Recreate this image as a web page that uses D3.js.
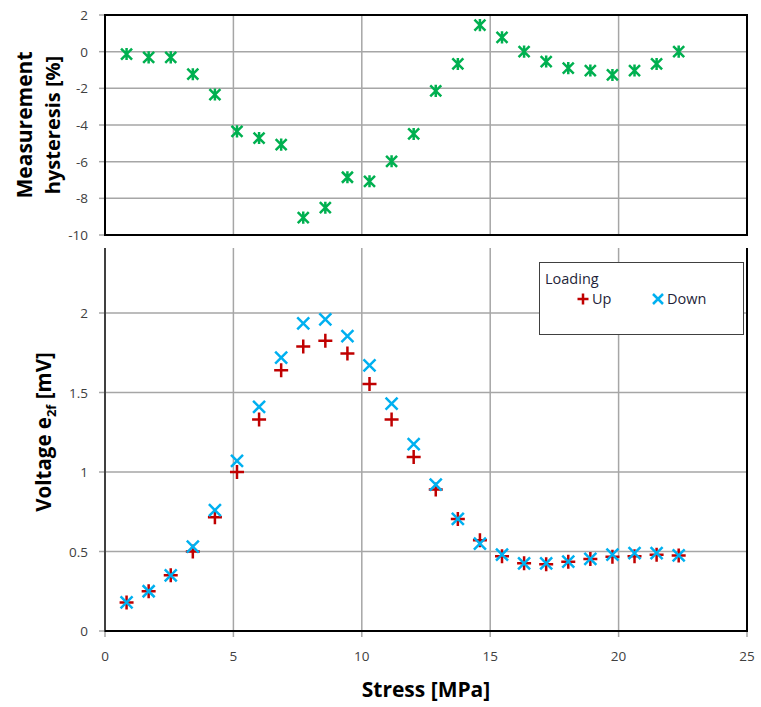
<!DOCTYPE html>
<html>
<head>
<meta charset="utf-8">
<script src="https://cdn.jsdelivr.net/npm/d3@7"></script>
<style>
  body { margin: 0; background: #fff; }
  svg text { font-family: "Open Sans", "Noto Sans", sans-serif; }
</style>
</head>
<body>
<div id="chart"></div>
<script>
// stress steps (MPa), shared by both panels
const stress = [0.84, 1.70, 2.56, 3.42, 4.28, 5.14, 6.00, 6.86, 7.72, 8.58, 9.44, 10.30, 11.16,
  12.02, 12.88, 13.74, 14.60, 15.46, 16.32, 17.18, 18.04, 18.90, 19.76, 20.62, 21.48, 22.34];
// top panel: measurement hysteresis [%]
const hysteresis = [-0.13, -0.31, -0.31, -1.23, -2.34, -4.35, -4.71, -5.07, -9.05, -8.51, -6.85, -7.07, -5.98,
  -4.49, -2.14, -0.67, 1.45, 0.78, 0.0, -0.54, -0.9, -1.03, -1.27, -1.03, -0.67, 0.0];
// bottom panel: voltage e2f [mV]
const voltUp = [0.18, 0.25, 0.35, 0.50, 0.715, 1.0, 1.33, 1.64, 1.79, 1.826, 1.746, 1.553, 1.33,
  1.095, 0.89, 0.705, 0.57, 0.47, 0.426, 0.42, 0.436, 0.453, 0.467, 0.47, 0.48, 0.475];
const voltDown = [0.18, 0.25, 0.35, 0.53, 0.76, 1.07, 1.41, 1.72, 1.935, 1.96, 1.855, 1.67, 1.43,
  1.175, 0.92, 0.705, 0.55, 0.48, 0.426, 0.426, 0.436, 0.453, 0.48, 0.49, 0.49, 0.475];

const xTicks = [0, 5, 10, 15, 20, 25];
const topTicks = [2, 0, -2, -4, -6, -8, -10];
const botTicks = [0, 0.5, 1, 1.5, 2];

const W = 761, H = 707;
const GRID = "#a6a6a6";
const LABEL = "#404040";
const GREEN = "#00b050", RED = "#c00000", BLUE = "#00b0f0";

const svg = d3.select("#chart").append("svg")
  .attr("width", W).attr("height", H);

const x = d3.scaleLinear().domain([0, 25]).range([105, 747]);
const yT = d3.scaleLinear().domain([-10, 2]).range([235, 15]);
const yB = d3.scaleLinear().domain([0, 2]).range([631, 313]);
const botTop = 248;

// marker paths
const plus = s => `M${-s},0H${s}M0,${-s}V${s}`;
const cross = s => `M${-s},${-s}L${s},${s}M${-s},${s}L${s},${-s}`;
const star = s => `M${-s},${-s}L${s},${s}M${-s},${s}L${s},${-s}M0,${-s * 1.1}V${s * 1.1}`;

// ---------- bottom panel ----------
const gB = svg.append("g");
gB.selectAll(".vgB").data(xTicks.filter(d => d > 0 && d < 25)).enter().append("line")
  .attr("x1", d => x(d)).attr("x2", d => x(d))
  .attr("y1", botTop).attr("y2", yB(0))
  .attr("stroke", GRID).attr("stroke-width", 1.5);
gB.selectAll(".hgB").data(botTicks.filter(d => d > 0)).enter().append("line")
  .attr("x1", x(0)).attr("x2", x(25))
  .attr("y1", d => yB(d)).attr("y2", d => yB(d))
  .attr("stroke", GRID).attr("stroke-width", 1.5);

// y ticks + labels
gB.selectAll(".ytB").data(botTicks).enter().append("line")
  .attr("x1", x(0) - 6).attr("x2", x(0))
  .attr("y1", d => yB(d)).attr("y2", d => yB(d))
  .attr("stroke", GRID).attr("stroke-width", 1.5);
gB.selectAll(".ylB").data(botTicks).enter().append("text")
  .attr("x", x(0) - 17).attr("y", d => yB(d) + 5)
  .attr("text-anchor", "end").attr("font-size", 13.5).attr("fill", LABEL)
  .text(d => d);

// x ticks + labels
gB.selectAll(".xtB").data(xTicks).enter().append("line")
  .attr("x1", d => x(d)).attr("x2", d => x(d))
  .attr("y1", yB(0)).attr("y2", yB(0) + 6)
  .attr("stroke", GRID).attr("stroke-width", 1.5);
gB.selectAll(".xlB").data(xTicks).enter().append("text")
  .attr("x", d => x(d)).attr("y", 661)
  .attr("text-anchor", "middle").attr("font-size", 13.5).attr("fill", LABEL)
  .text(d => d);

// axes lines
gB.append("line").attr("x1", x(0)).attr("x2", x(0)).attr("y1", botTop).attr("y2", yB(0) + 1)
  .attr("stroke", "#404040").attr("stroke-width", 2);
gB.append("line").attr("x1", x(0)).attr("x2", x(25) + 1).attr("y1", yB(0)).attr("y2", yB(0))
  .attr("stroke", "#000").attr("stroke-width", 2);
gB.append("line").attr("x1", x(25)).attr("x2", x(25)).attr("y1", botTop).attr("y2", yB(0))
  .attr("stroke", "#000").attr("stroke-width", 2);

// markers
gB.selectAll(".up").data(stress).enter().append("path")
  .attr("transform", (d, i) => `translate(${x(d)},${yB(voltUp[i])})`)
  .attr("d", plus(7)).attr("stroke", RED).attr("stroke-width", 2.5).attr("fill", "none");
gB.selectAll(".down").data(stress).enter().append("path")
  .attr("transform", (d, i) => `translate(${x(d)},${yB(voltDown[i])})`)
  .attr("d", cross(6)).attr("stroke", BLUE).attr("stroke-width", 2.5).attr("fill", "none");

// legend
const lg = gB.append("g");
lg.append("rect").attr("x", 539.5).attr("y", 262.5).attr("width", 204).attr("height", 72)
  .attr("fill", "#fff").attr("stroke", "#404040").attr("stroke-width", 1);
lg.append("text").attr("x", 545).attr("y", 284).attr("font-size", 14.5).attr("fill", "#1f1f3a").text("Loading");
lg.append("path").attr("transform", "translate(583,299)").attr("d", plus(5.5))
  .attr("stroke", RED).attr("stroke-width", 2.5);
lg.append("text").attr("x", 592).attr("y", 304).attr("font-size", 14.5).attr("fill", "#1f1f3a").text("Up");
lg.append("path").attr("transform", "translate(658,299)").attr("d", cross(5))
  .attr("stroke", BLUE).attr("stroke-width", 2.5);
lg.append("text").attr("x", 667).attr("y", 304).attr("font-size", 14.5).attr("fill", "#1f1f3a").text("Down");

// titles
gB.append("text").attr("x", 426).attr("y", 697).attr("text-anchor", "middle")
  .attr("font-size", 21).attr("font-weight", "bold").attr("fill", "#000").text("Stress [MPa]");
const yTitle = gB.append("text").attr("transform", "translate(51,432) rotate(-90)")
  .attr("text-anchor", "middle").attr("font-size", 20.5).attr("font-weight", "bold").attr("fill", "#000");
yTitle.append("tspan").text("Voltage e");
yTitle.append("tspan").attr("font-size", 13).attr("dy", 5).text("2f");
yTitle.append("tspan").attr("dy", -5).text(" [mV]");

// ---------- top panel ----------
const gT = svg.append("g");
gT.append("rect").attr("x", x(0)).attr("y", yT(2)).attr("width", x(25) - x(0)).attr("height", yT(-10) - yT(2))
  .attr("fill", "#fff");
gT.selectAll(".vgT").data(xTicks.filter(d => d > 0 && d < 25)).enter().append("line")
  .attr("x1", d => x(d)).attr("x2", d => x(d))
  .attr("y1", yT(2)).attr("y2", yT(-10))
  .attr("stroke", GRID).attr("stroke-width", 1.5);
gT.selectAll(".hgT").data(topTicks.filter(d => d < 2 && d > -10)).enter().append("line")
  .attr("x1", x(0)).attr("x2", x(25))
  .attr("y1", d => yT(d)).attr("y2", d => yT(d))
  .attr("stroke", GRID).attr("stroke-width", 1.5);
gT.selectAll(".ytT").data(topTicks).enter().append("line")
  .attr("x1", x(0) - 6).attr("x2", x(0))
  .attr("y1", d => yT(d)).attr("y2", d => yT(d))
  .attr("stroke", GRID).attr("stroke-width", 1.5);
gT.selectAll(".ylT").data(topTicks).enter().append("text")
  .attr("x", x(0) - 17).attr("y", d => yT(d) + 5)
  .attr("text-anchor", "end").attr("font-size", 13.5).attr("fill", LABEL)
  .text(d => d);
gT.append("rect").attr("x", x(0)).attr("y", yT(2)).attr("width", x(25) - x(0)).attr("height", yT(-10) - yT(2))
  .attr("fill", "none").attr("stroke", "#000").attr("stroke-width", 2);

gT.selectAll(".hy").data(stress).enter().append("path")
  .attr("transform", (d, i) => `translate(${x(d)},${yT(hysteresis[i])})`)
  .attr("d", star(5.5)).attr("stroke", GREEN).attr("stroke-width", 2.5).attr("fill", "none");

gT.append("text").attr("transform", "translate(32,125) rotate(-90)")
  .attr("text-anchor", "middle").attr("font-size", 21).attr("font-weight", "bold").attr("fill", "#000")
  .text("Measurement");
gT.append("text").attr("transform", "translate(60,125) rotate(-90)")
  .attr("text-anchor", "middle").attr("font-size", 20).attr("font-weight", "bold").attr("fill", "#000")
  .text("hysteresis [%]");
</script>
</body>
</html>
